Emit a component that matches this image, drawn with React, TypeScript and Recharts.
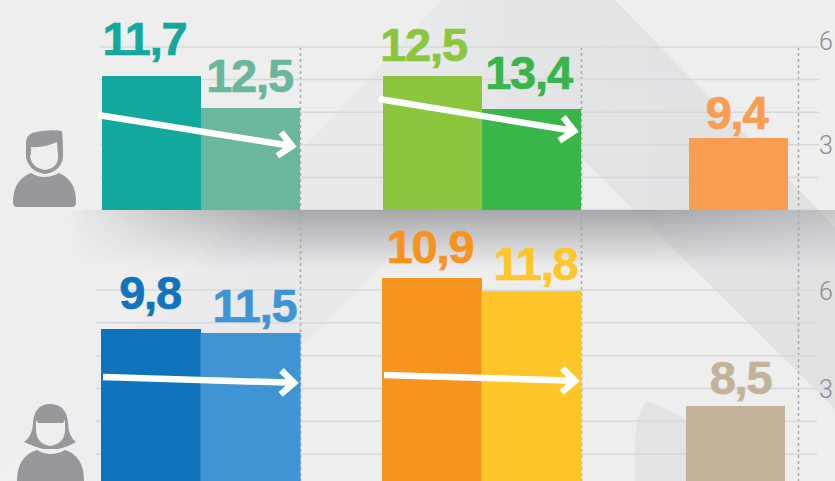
import React from "react";
import { BarChart, Bar, Cell, XAxis, YAxis, CartesianGrid, LabelList } from "recharts";

// ---------- data (bar heights are read on the right-hand axis, labels are the printed figures)
const periods = ["Before", "After"];
const single = ["Now"];

const menGroup1Values = [5.11, 4.13];
const menGroup1Labels = ["11,7", "12,5"];
const menGroup2Values = [5.11, 4.1];
const menGroup2Labels = ["12,5", "13,4"];
const menGroup3Values = [3.21];
const menGroup3Labels = ["9,4"];

const womenGroup1Values = [4.81, 4.69];
const womenGroup1Labels = ["9,8", "11,5"];
const womenGroup2Values = [6.37, 5.97];
const womenGroup2Labels = ["10,9", "11,8"];
const womenGroup3Values = [2.47];
const womenGroup3Labels = ["8,5"];

const axisTicks = [1, 2, 3, 4, 5, 6];
const shownTicks = [3, 6];

// ---------- styles and layout
const BG = "#eeeeee";
const ICON = "#97989c";
const GRID = "#d8d8da";
const PAD = 14;

const toRows = (cats: string[], vals: number[], labels: string[]) =>
  cats.map((c, i) => ({ name: c, value: vals[i], label: labels[i] }));

type PanelProps = {
  left: number;
  width: number;
  top: number;
  height: number;
  marginTop: number;
  domain: number[];
  rows: { name: string; value: number; label: string }[];
  colors: string[];
  shift: number[][];
};

function Panel({ left, width, top, height, marginTop, domain, rows, colors, shift }: PanelProps) {
  return (
    <div style={{ position: "absolute", left: left - PAD, top }}>
      <BarChart
        width={width + PAD * 2}
        height={height}
        data={rows}
        barCategoryGap={0}
        barGap={0}
        margin={{ top: marginTop, right: PAD, bottom: 0, left: PAD }}
      >
        <XAxis dataKey="name" hide />
        <YAxis hide domain={domain} allowDataOverflow />
        <Bar dataKey="value" isAnimationActive={false}>
          {rows.map((r, i) => (
            <Cell key={r.name} fill={colors[i]} />
          ))}
          <LabelList
            dataKey="label"
            content={(p: any) => (
              <text
                x={p.x + p.width / 2 + shift[p.index][0]}
                y={p.y - shift[p.index][1]}
                textAnchor="middle"
                fontFamily="'Liberation Sans', Arial, sans-serif"
                fontWeight={700}
                fontSize={47}
                letterSpacing={-1.2}
                stroke={colors[p.index]}
                strokeWidth={0.7}
                fill={colors[p.index]}
              >
                {p.value}
              </text>
            )}
          />
        </Bar>
      </BarChart>
    </div>
  );
}

function Grid({ top, height, marginTop, marginLeft, axisWidth, domain, sixShift, gridValues }: any) {
  const tick = (p: any) => {
    const v = p.payload.value;
    if (!shownTicks.includes(v)) return <g />;
    return (
      <text
        x={819}
        y={p.y + (v === 6 ? sixShift : 0) + 9}
        fontFamily="Roboto, sans-serif"
        fontWeight={300}
        fontSize={25}
        fill="#8c8d90"
      >
        {v}
      </text>
    );
  };
  return (
    <div style={{ position: "absolute", left: 0, top }}>
      <BarChart
        width={835}
        height={height}
        data={toRows(periods, [domain[0], domain[0]], ["", ""])}
        margin={{ top: marginTop, right: 0, bottom: 0, left: marginLeft }}
        style={{ overflow: "visible" }}
      >
        <CartesianGrid
          vertical={false}
          stroke={GRID}
          strokeWidth={1.5}
          horizontalValues={gridValues}
        />
        <XAxis dataKey="name" hide />
        <YAxis
          orientation="right"
          width={axisWidth}
          domain={domain}
          allowDataOverflow
          ticks={axisTicks}
          interval={0}
          axisLine={false}
          tickLine={false}
          tick={tick}
          tickMargin={0}
        />
        <Bar dataKey="value" isAnimationActive={false} />
      </BarChart>
    </div>
  );
}

function Arrow({ x1, y1, x2, y2 }: { x1: number; y1: number; x2: number; y2: number }) {
  const len = Math.hypot(x2 - x1, y2 - y1);
  const dx = (x2 - x1) / len;
  const dy = (y2 - y1) / len;
  const tx = x2 - dx * 6;
  const ty = y2 - dy * 6;
  const bx = tx - dx * 13;
  const by = ty - dy * 13;
  return (
    <g fill="none" stroke="#ffffff" strokeWidth={6.5}>
      <line x1={x1} y1={y1} x2={tx} y2={ty} />
      <polyline
        strokeMiterlimit={6}
        points={`${bx - dy * 12},${by + dx * 12} ${tx},${ty} ${bx + dy * 12},${by - dx * 12}`}
      />
    </g>
  );
}

function Backdrop() {
  return (
    <svg width={835} height={481} style={{ position: "absolute", left: 0, top: 0 }}>
      <defs>
        <linearGradient id="facet" gradientUnits="userSpaceOnUse" x1={0} y1={0} x2={835} y2={0}>
          <stop offset="0" stopColor="#f0f0f1" />
          <stop offset="0.3" stopColor="#e8e9eb" />
          <stop offset="0.52" stopColor="#e8e9eb" />
          <stop offset="0.62" stopColor="#e3e4e6" />
          <stop offset="1" stopColor="#e0e1e3" />
        </linearGradient>
        <linearGradient id="shadowDrop" gradientUnits="userSpaceOnUse" x1={0} y1={210} x2={0} y2={268}>
          <stop offset="0" stopColor="#a6a7aa" stopOpacity={1} />
          <stop offset="1" stopColor="#a6a7aa" stopOpacity={0} />
        </linearGradient>
        <linearGradient id="shadowSides" gradientUnits="userSpaceOnUse" x1={0} y1={0} x2={835} y2={0}>
          <stop offset="0.08" stopColor="#fff" stopOpacity={0} />
          <stop offset="0.18" stopColor="#fff" stopOpacity={0.45} />
          <stop offset="0.3" stopColor="#fff" stopOpacity={0.85} />
          <stop offset="0.36" stopColor="#fff" stopOpacity={1} />
          <stop offset="0.79" stopColor="#fff" stopOpacity={1} />
          <stop offset="0.91" stopColor="#fff" stopOpacity={0.75} />
          <stop offset="1" stopColor="#fff" stopOpacity={0.55} />
        </linearGradient>
        <mask id="shadowMask" maskUnits="userSpaceOnUse" x={0} y={200} width={835} height={80}>
          <rect x={0} y={200} width={835} height={80} fill="url(#shadowSides)" />
        </mask>
      </defs>
      <rect width={835} height={481} fill={BG} />
      <polygon
        points="442,0 615,0 835,227 835,409 581,157 581,210 437,210 165,481 0,481 0,472"
        fill="url(#facet)"
      />
      <path d="M646 401 Q680 412 690 425 L690 481 L635 481 L635 440 Q636 418 646 401 Z" fill="#e2e3e5" />
      <rect x={0} y={210} width={835} height={58} fill="url(#shadowDrop)" mask="url(#shadowMask)" />
      <g stroke="#a9a9ac" strokeWidth={1.5} strokeDasharray="3 3">
        <line x1={300.5} y1={47} x2={300.5} y2={481} />
        <line x1={581.5} y1={47} x2={581.5} y2={481} />
        <line x1={798.5} y1={47} x2={798.5} y2={481} />
      </g>
    </svg>
  );
}

function Icons() {
  return (
    <svg width={835} height={481} style={{ position: "absolute", left: 0, top: 0 }}>
      <g fill={ICON}>
        <path d="M13 202 Q13 180 31 173 Q44 181 59 173 Q76 180 76 202 Q76 207 72 207 L17 207 Q13 207 13 202 Z" />
        <path d="M26 142 Q27 133 36 132 Q50 129 62 131 Q63 140 63 158 Q60 172 45 174 Q30 172 26 158 Z" />
        <path d="M31 155 L31 147 Q45 148 57 142 L58 155 Q59 168 45 170 Q31 168 30 155 Z" fill={BG} />
        <path d="M17 481 Q17 456 37 450 Q50 458 65 450 Q84 456 84 481 Z" />
        <path d="M50 404 Q35 404 33 422 Q33 436 24 442 Q35 447 43 449 L58 449 Q68 447 76 442 Q68 436 68 422 Q66 404 50 404 Z" />
        <path d="M36 420 L38 423 L63 423 L65 420 L65 431 Q64 444 50 446 Q37 444 36 431 Z" fill={BG} />
      </g>
    </svg>
  );
}

const trendArrows = [
  { x1: 98, y1: 115, x2: 298, y2: 147 },
  { x1: 379, y1: 99, x2: 580, y2: 132 },
  { x1: 103, y1: 377, x2: 300, y2: 383 },
  { x1: 384, y1: 375, x2: 581, y2: 381 },
];

const menDomain = [1, 6];
const womenDomain = [0, 7];
const menChart = { top: 0, height: 210, marginTop: 47, domain: menDomain };
const womenChart = { top: 220, height: 267, marginTop: 37.2, domain: womenDomain };

export default function App() {
  return (
    <div style={{ position: "absolute", left: 0, top: 0, width: 835, height: 481, overflow: "hidden", background: BG }}>
      <Backdrop />
      <Grid {...menChart} marginLeft={100} axisWidth={16} sixShift={-6} gridValues={axisTicks} />
      <Grid {...womenChart} marginLeft={96} axisWidth={18} sixShift={1} gridValues={axisTicks} />

      <Panel {...menChart} left={102} width={198} rows={toRows(periods, menGroup1Values, menGroup1Labels)}
        colors={["#12a89d", "#6bb69e"]} shift={[[-7, 21], [-1, 16]]} />
      <Panel {...menChart} left={383} width={198} rows={toRows(periods, menGroup2Values, menGroup2Labels)}
        colors={["#8cc63f", "#39b54a"]} shift={[[-9, 15], [-3, 20]]} />
      <Panel {...menChart} left={689} width={99} rows={toRows(single, menGroup3Values, menGroup3Labels)}
        colors={["#f99d51"]} shift={[[-2, 9]]} />

      <Panel {...womenChart} left={101} width={199} rows={toRows(periods, womenGroup1Values, womenGroup1Labels)}
        colors={["#1074bc", "#3f94d3"]} shift={[[-1, 20], [4, 11]]} />
      <Panel {...womenChart} left={382} width={199} rows={toRows(periods, womenGroup2Values, womenGroup2Labels)}
        colors={["#f7941e", "#ffc62a"]} shift={[[-2, 15], [4, 11]]} />
      <Panel {...womenChart} left={686} width={99} rows={toRows(single, womenGroup3Values, womenGroup3Labels)}
        colors={["#c3b39b"]} shift={[[5, 12]]} />

      <svg width={835} height={481} style={{ position: "absolute", left: 0, top: 0 }}>
        {trendArrows.map((a) => (
          <Arrow key={a.x1 + "-" + a.y1} {...a} />
        ))}
      </svg>
      <Icons />
    </div>
  );
}
